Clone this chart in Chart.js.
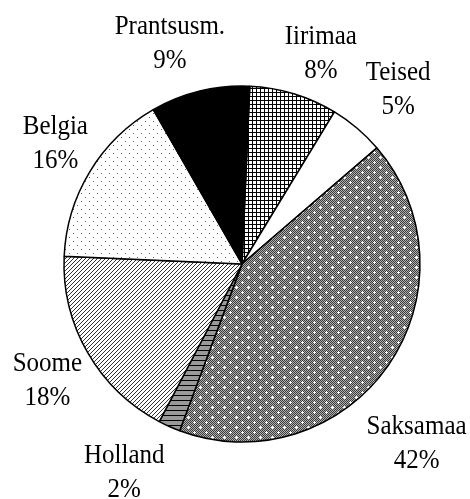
<!DOCTYPE html>
<html>
<head>
<meta charset="utf-8">
<script src="https://cdn.jsdelivr.net/npm/chart.js@4.4.1/dist/chart.umd.min.js"></script>
<style>
    html, body { margin: 0; padding: 0; background: #fff; }
    #wrap { width: 470px; height: 499px; }
</style>
</head>
<body>
<div id="wrap"><canvas id="pieChart" width="470" height="499"></canvas></div>
<script>
// Chart data (clockwise from the top)
const countries = ['Iirimaa', 'Teised', 'Saksamaa', 'Holland', 'Soome', 'Belgia', 'Prantsusm.'];
const shares = [8, 5, 42, 2, 18, 16, 9];

// Label placement: angle nudge (deg) from slice middle, distance past the rim (px)
const labelNudge = [4.3, 2.7, 12.1, 4.5, -2.7, -0.2, -5.0];
const labelGap = [40, 51, 78, 68, 53, 40, 47];

// Build a small tile and turn it into a canvas pattern
function makePattern(w, h, draw) {
    const c = document.createElement('canvas');
    c.width = w;
    c.height = h;
    const g = c.getContext('2d');
    draw(g);
    return document.getElementById('pieChart').getContext('2d').createPattern(c, 'repeat');
}

// Iirimaa: small square grid
const gridFill = makePattern(4, 4, g => {
    g.fillStyle = '#fff';
    g.fillRect(0, 0, 4, 4);
    g.fillStyle = '#000';
    g.fillRect(0, 0, 4, 1);
    g.fillRect(0, 0, 1, 4);
});

// Saksamaa: dithered grey with white dots
const greyDotsFill = makePattern(12, 10, g => {
    for (let y = 0; y < 10; y++) {
        for (let x = 0; x < 12; x++) {
            g.fillStyle = (x + y) % 2 === 0 ? '#3c3c3c' : '#b0b0b0';
            g.fillRect(x, y, 1, 1);
        }
    }
    g.fillStyle = '#fff';
    g.fillRect(1, 2, 3, 1);
    g.fillRect(2, 1, 1, 3);
    g.fillRect(7, 7, 3, 1);
    g.fillRect(8, 6, 1, 3);
});

// Holland: grey with horizontal lines
const stripesFill = makePattern(5, 5, g => {
    g.fillStyle = '#999';
    g.fillRect(0, 0, 5, 5);
    g.fillStyle = '#000';
    g.fillRect(0, 0, 5, 1);
});

// Soome: diagonal hatching
const hatchFill = makePattern(4, 4, g => {
    g.fillStyle = '#fff';
    g.fillRect(0, 0, 4, 4);
    g.fillStyle = '#333';
    for (let i = 0; i < 4; i++) {
        g.fillRect(3 - i, i, 1, 1);
    }
});

// Belgia: sparse dots
const dotsFill = makePattern(8, 8, g => {
    g.fillStyle = '#fff';
    g.fillRect(0, 0, 8, 8);
    g.fillStyle = '#666';
    g.fillRect(1, 1, 1, 1);
    g.fillRect(5, 5, 1, 1);
});

const fills = [gridFill, '#ffffff', greyDotsFill, stripesFill, hatchFill, dotsFill, '#000000'];

// Draw one text line, a little taller than wide like the original
function tallText(ctx, text, x, y) {
    ctx.save();
    ctx.translate(x, y);
    ctx.scale(1, 1.1);
    ctx.fillText(text, 0, 0);
    ctx.restore();
}

// Draw the two-line labels next to each slice
const sliceLabels = {
    id: 'sliceLabels',
    afterDatasetsDraw(chart) {
        const ctx = chart.ctx;
        const arcs = chart.getDatasetMeta(0).data;
        ctx.save();
        ctx.font = '25px "Liberation Serif", "Times New Roman", serif';
        ctx.fillStyle = '#000';
        ctx.textAlign = 'center';
        ctx.textBaseline = 'alphabetic';
        arcs.forEach((arc, i) => {
            const mid = (arc.startAngle + arc.endAngle) / 2 + labelNudge[i] * Math.PI / 180;
            const d = arc.outerRadius + labelGap[i];
            const x = arc.x + d * Math.cos(mid);
            const y = arc.y + d * Math.sin(mid);
            tallText(ctx, countries[i], x, y - 17);
            tallText(ctx, shares[i] + '%', x, y + 17);
        });
        ctx.restore();
    }
};

const pieCtx = document.getElementById('pieChart').getContext('2d');
const pieChart = new Chart(pieCtx, {
    type: 'pie',
    data: {
        labels: countries,
        datasets: [{
            data: shares,
            backgroundColor: fills,
            borderColor: '#000',
            borderWidth: 1.5
        }]
    },
    options: {
        responsive: false,
        animation: false,
        devicePixelRatio: 1,
        rotation: 2.5,
        radius: 178,
        layout: {
            padding: { left: 60, right: 46, top: 60, bottom: 31 }
        },
        plugins: {
            legend: { display: false },
            tooltip: { enabled: false }
        }
    },
    plugins: [sliceLabels]
});
</script>
</body>
</html>
